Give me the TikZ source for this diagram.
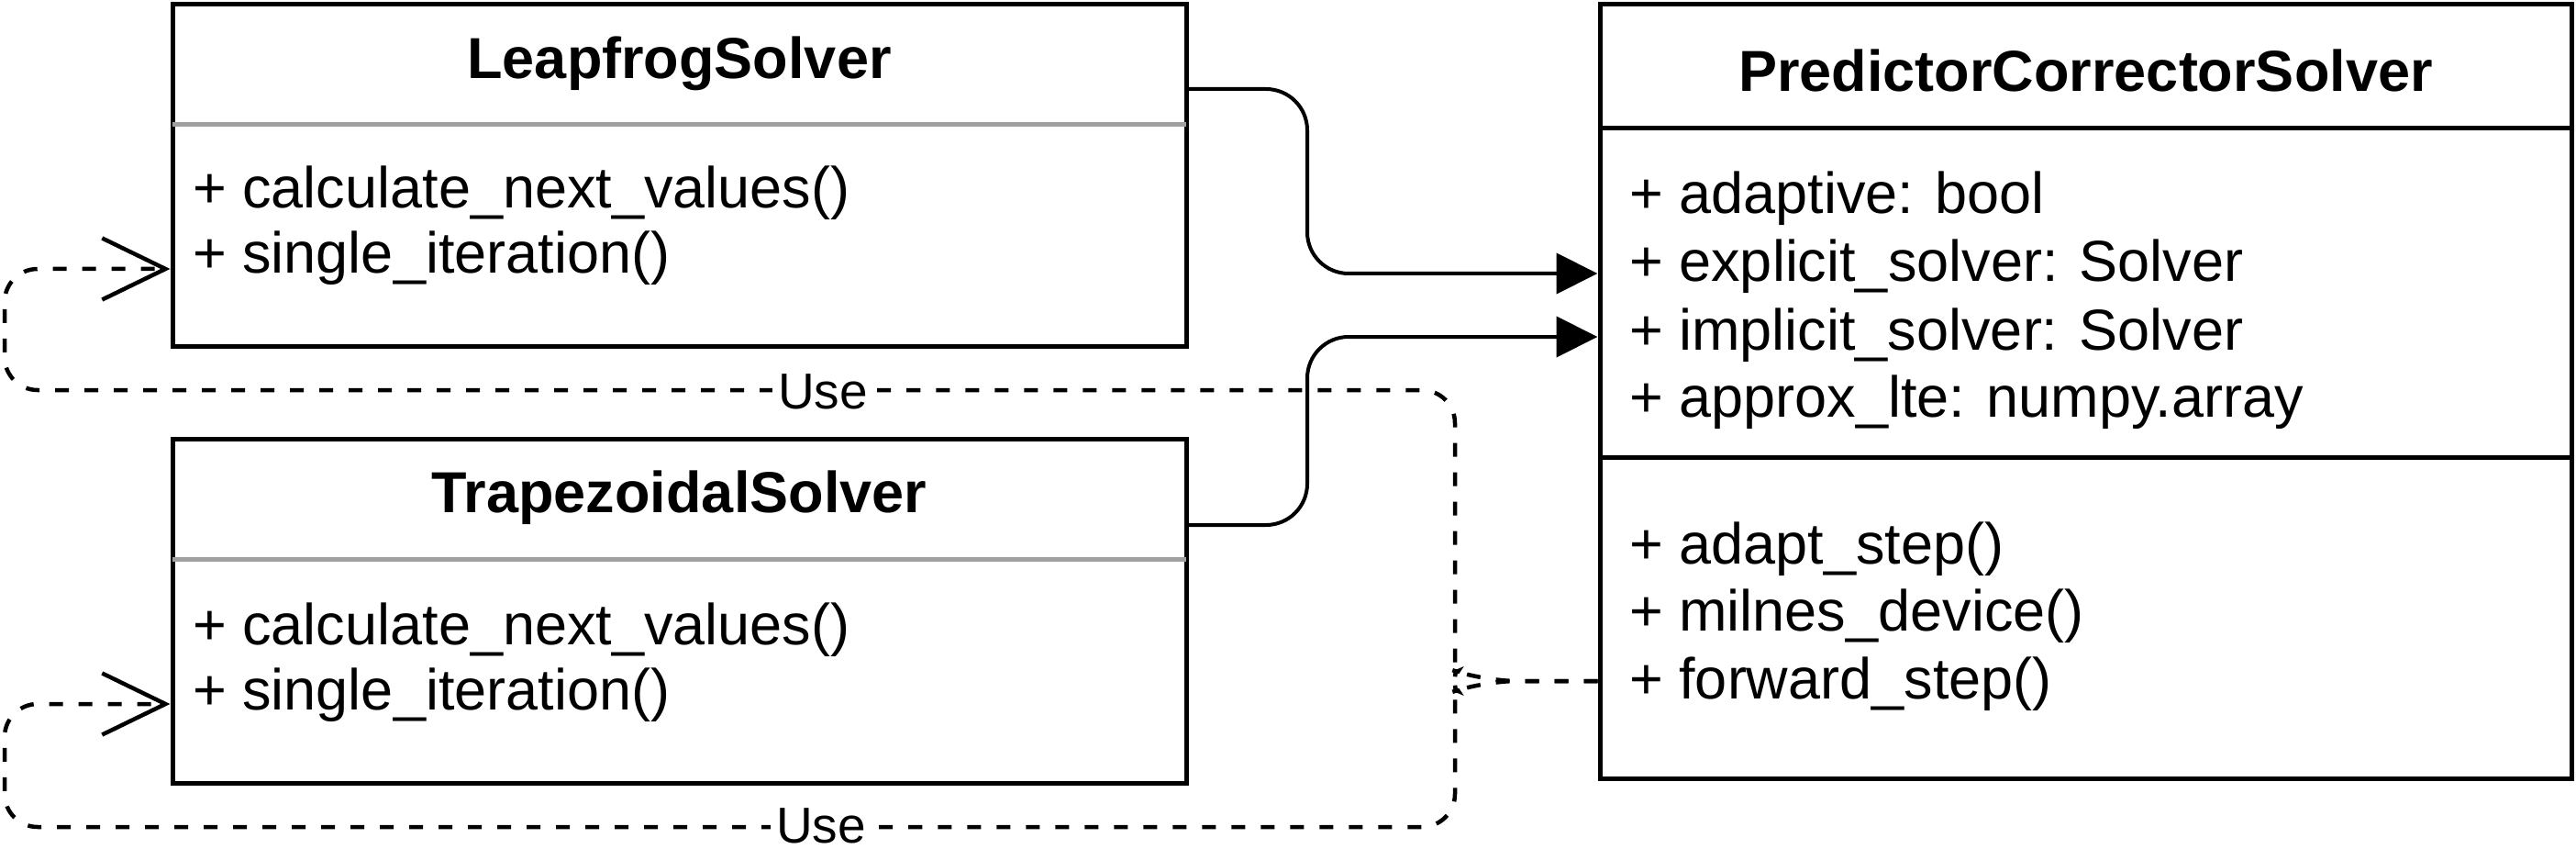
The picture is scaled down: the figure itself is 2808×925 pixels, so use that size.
\documentclass[tikz,border=0pt]{standalone}
\usepackage{fontspec}
\setmainfont{Liberation Sans}
\usetikzlibrary{arrows.meta}
\definecolor{sepgrey}{HTML}{A0A0A0}
\begin{document}
\begin{tikzpicture}[x=1pt,y=-1pt,
  classbox/.style={draw, line width=5pt, rectangle, inner sep=0pt},
  txt/.style={inner sep=0pt, anchor=base west, font=\fontsize{63pt}{75pt}\selectfont},
  ttl/.style={inner sep=0pt, anchor=base, font=\fontsize{63pt}{75pt}\selectfont\bfseries},
  uselbl/.style={fill=white, inner xsep=6pt, inner ysep=0.5pt, anchor=base, font=\fontsize{55pt}{66pt}\selectfont},
  sepg/.style={line width=5pt, draw=sepgrey, shorten <=2.5pt, shorten >=2.5pt},
  sepb/.style={line width=5pt},
  conn/.style={line width=4pt, rounded corners=45pt, -{Triangle[length=45pt,width=44pt]}},
  uselink/.style={line width=4.5pt, dash pattern=on 15pt off 17pt, rounded corners=36pt, -{Straight Barb[length=69pt,width=67pt]}}
]
\useasboundingbox (0,0) rectangle (2808,925);

% Boxes
\node[classbox, minimum width=1105pt, minimum height=372pt] (leap) at (740.5,191) {};
\node[classbox, minimum width=1105pt, minimum height=375pt] (trap) at (740.5,665.5) {};
\node[classbox, minimum width=1059pt, minimum height=843pt] (pc) at (2273.5,426.5) {};

% Separators
\draw[sepg] (leap.west |- 0,136) -- (leap.east |- 0,136);
\draw[sepg] (trap.west |- 0,609) -- (trap.east |- 0,609);
\draw[sepb] (pc.west |- 0,140) -- (pc.east |- 0,140);
\draw[sepb] (pc.west |- 0,498) -- (pc.east |- 0,498);

% Titles
\node[ttl] (leapT) at (740.5,86) {LeapfrogSolver};
\node[ttl] (trapT) at (740.5,558) {TrapezoidalSolver};
\node[ttl] (pcT) at (2273.5,100) {PredictorCorrectorSolver};

% Leapfrog members
\node[txt] (l1) at (210,227) {+ calculate\_next\_values()};
\node[txt] (l2) at (210,298) {+ single\_iteration()};

% Trapezoidal members
\node[txt] (t1) at (210,702) {+ calculate\_next\_values()};
\node[txt] (t2) at (210,773) {+ single\_iteration()};

% PC attributes
\node[txt] (a1) at (1776,233) {+ adaptive: bool};
\node[txt] (a2) at (1776,307) {+ explicit\_solver: Solver};
\node[txt] (a3) at (1776,381) {+ implicit\_solver: Solver};
\node[txt] (a4) at (1776,454) {+ approx\_lte: numpy.array};

% PC methods
\node[txt] (m1) at (1776,614) {+ adapt\_step()};
\node[txt] (m2) at (1776,687) {+ milnes\_device()};
\node[txt] (m3) at (1776,761) {+ forward\_step()};

% Solid connectors
\draw[conn] (leap.east |- 0,97) -- (1425,97) -- (1425,298) -- (pc.west |- 0,298);
\draw[conn] (trap.east |- 0,572) -- (1425,572) -- (1425,367) -- (pc.west |- 0,367);

% Dashed "Use" connectors
\draw[uselink] (pc.west |- 0,742) -- (1617,742)
  .. controls (1597,735) and (1586,725) .. (1586,702)
  -- (1586,425) -- (5,425) -- (5,293) -- (leap.west |- 0,293);
\draw[uselink] (pc.west |- 0,742) -- (1617,742)
  .. controls (1597,749) and (1586,759) .. (1586,782)
  -- (1586,901) -- (5,901) -- (5,767) -- (trap.west |- 0,767);

% Labels
\node[uselbl] (u1) at (897,445) {Use};
\node[uselbl] (u2) at (895,918) {Use};
\end{tikzpicture}
\end{document}
